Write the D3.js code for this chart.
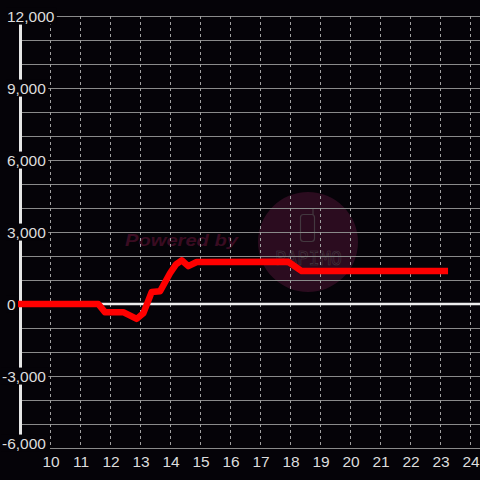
<!DOCTYPE html>
<html>
<head>
<meta charset="utf-8">
<script src="https://cdn.jsdelivr.net/npm/d3@7"></script>
<style>
	html, body { margin: 0; padding: 0; background: #050308; }
	svg { display: block; }
</style>
</head>
<body>
<div id="chart"></div>
<script>
// hours of the day (x) and balance values (y)
var hours  = [9.0, 11.61, 11.83, 12.44, 12.89, 13.11, 13.39, 13.67, 14.0, 14.2, 14.39, 14.61, 14.89, 17.94, 18.39, 23.16];
var values = [0,   0,     -340,  -340,  -620,  -390,  500,   530,   1280, 1650, 1820,  1580,  1750,  1760,  1370,  1370];

var xTicks = [10, 11, 12, 13, 14, 15, 16, 17, 18, 19, 20, 21, 22, 23, 24];
var yTicks = [12000, 9000, 6000, 3000, 0, -3000, -6000];
var yGrid  = d3.range(-6000, 12001, 1000);

var width = 480,
	height = 480;

var svg = d3.select("#chart").append("svg")
	.attr("width", width)
	.attr("height", height)
	.style("font-family", "'Liberation Sans', Arial, sans-serif");

svg.append("rect")
	.attr("width", width)
	.attr("height", height)
	.attr("fill", "#050308");

var x = d3.scaleLinear().domain([9, 24]).range([20, 470]),
	y = d3.scaleLinear().domain([-6000, 12000]).range([448, 16]);

// watermark
var wm = svg.append("g");
wm.append("circle")
	.attr("cx", 308)
	.attr("cy", 242)
	.attr("r", 50)
	.attr("fill", "#2b0c1f");
wm.append("text")
	.attr("x", 125)
	.attr("y", 246)
	.attr("textLength", 113)
	.attr("lengthAdjust", "spacingAndGlyphs")
	.style("font-size", "17px")
	.style("font-weight", "bold")
	.style("font-style", "italic")
	.attr("fill", "#3a0c22")
	.text("Powered by");
wm.append("rect")
	.attr("x", 300.5)
	.attr("y", 214.5)
	.attr("width", 14)
	.attr("height", 27)
	.attr("rx", 3)
	.attr("fill", "none")
	.attr("stroke", "#43383f")
	.attr("stroke-width", 1.2);
wm.append("line")
	.attr("x1", 313).attr("x2", 313)
	.attr("y1", 209).attr("y2", 215)
	.attr("stroke", "#43383f")
	.attr("stroke-width", 1.2);
wm.append("text")
	.attr("x", 275)
	.attr("y", 265)
	.attr("textLength", 67)
	.attr("lengthAdjust", "spacingAndGlyphs")
	.style("font-family", "'DejaVu Sans Mono', monospace")
	.style("font-size", "20px")
	.attr("fill", "none")
	.attr("stroke", "#43383f")
	.attr("stroke-width", 0.6)
	.text("PAPIMO");

// grid
svg.append("g")
	.selectAll("line")
	.data(yGrid)
	.join("line")
	.attr("x1", function (d) { return d === -6000 ? x(10) : x(9); })
	.attr("x2", width)
	.attr("y1", function (d) { return Math.round(y(d)) + 0.5; })
	.attr("y2", function (d) { return Math.round(y(d)) + 0.5; })
	.attr("stroke", "#8a8a8a")
	.attr("stroke-width", 1);

svg.append("g")
	.selectAll("line")
	.data(xTicks)
	.join("line")
	.attr("x1", function (d) { return Math.round(x(d)) + 0.5; })
	.attr("x2", function (d) { return Math.round(x(d)) + 0.5; })
	.attr("y1", y(12000))
	.attr("y2", y(-6000))
	.attr("stroke", "#a0a0a0")
	.attr("stroke-width", 1)
	.attr("stroke-dasharray", "3,3");

// zero line and y axis
svg.append("line")
	.attr("x1", x(9))
	.attr("x2", width)
	.attr("y1", y(0))
	.attr("y2", y(0))
	.attr("stroke", "#eeeeee")
	.attr("stroke-width", 2.5);

svg.append("line")
	.attr("x1", 20.5)
	.attr("x2", 20.5)
	.attr("y1", y(12000))
	.attr("y2", y(-6000))
	.attr("stroke", "#e6e6e6")
	.attr("stroke-width", 3);

var line = d3.line()
	.x(function (d) { return x(d[0]); })
	.y(function (d) { return y(d[1]); });

svg.append("path")
	.datum(d3.zip(hours, values))
	.attr("d", line)
	.attr("fill", "none")
	.attr("stroke", "#ff0000")
	.attr("stroke-width", 6.5)
	.attr("stroke-linejoin", "round")
	.attr("stroke-linecap", "square");

// y labels with opaque boxes, left aligned, minus sign hangs left
var fmt = d3.format(",");
var yl = svg.append("g")
	.selectAll("g")
	.data(yTicks)
	.join("g")
	.attr("transform", function (d) {
		return "translate(" + (d < 0 ? 2 : 7) + "," + Math.min(y(d), 443) + ")";
	});
yl.append("text")
	.attr("dy", "0.36em")
	.attr("fill", "#dddddd")
	.style("font-size", "15.5px")
	.text(function (d) { return fmt(d).replace("−", "-"); });
yl.each(function () {
	var g = d3.select(this),
		b = g.select("text").node().getBBox();
	g.insert("rect", "text")
		.attr("x", b.x - 1)
		.attr("y", b.y)
		.attr("width", b.width + 3)
		.attr("height", b.height)
		.attr("fill", "#050308");
});

svg.append("g")
	.selectAll("text")
	.data(xTicks)
	.join("text")
	.attr("x", function (d) { return x(d) + 1; })
	.attr("y", 461)
	.attr("dy", "0.36em")
	.attr("text-anchor", "middle")
	.attr("fill", "#dddddd")
	.style("font-size", "15.5px")
	.text(function (d) { return d; });
</script>
</body>
</html>
